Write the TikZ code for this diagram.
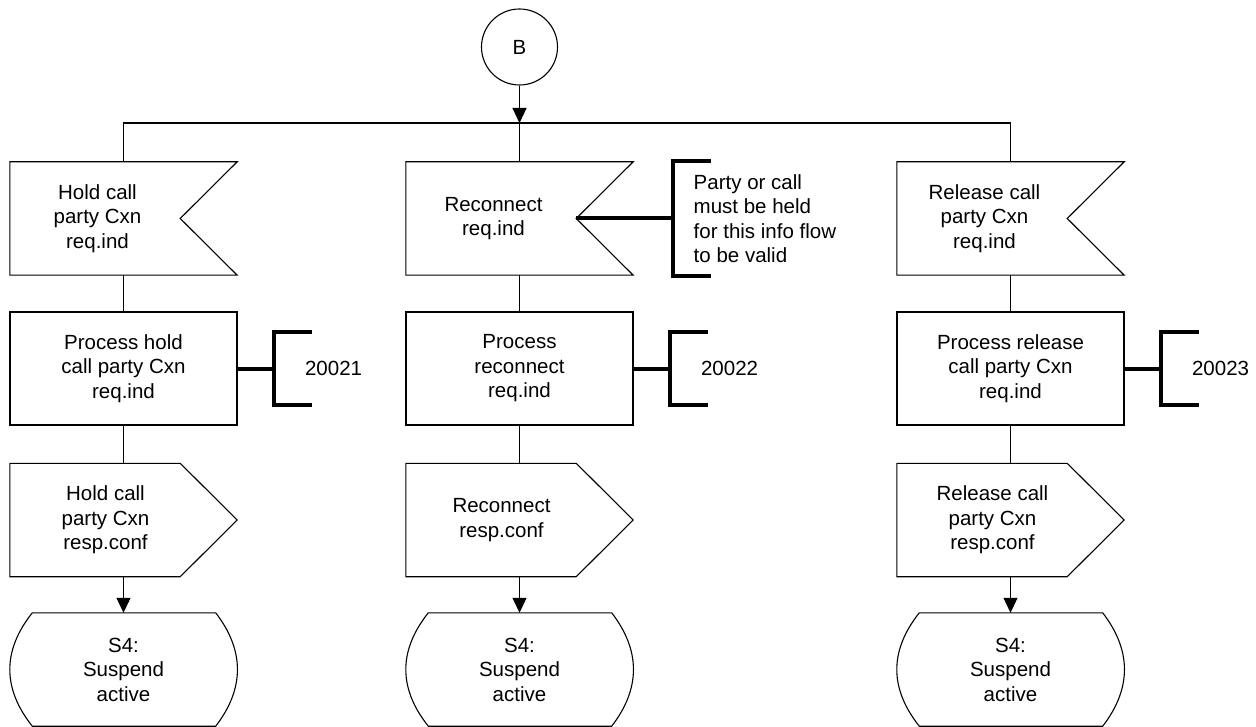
\documentclass[tikz,border=0pt]{standalone}
\usepackage{fontspec}
\setmainfont{Liberation Sans}
\usetikzlibrary{arrows.meta}
\begin{document}
\begin{tikzpicture}[x=1pt,y=-1pt,
  every node/.style={font=\fontsize{20.5}{24.5}\selectfont},
  conn/.style={line width=1.1pt},
  arr/.style={line width=1.1pt,-{Triangle[length=15pt,width=14pt]}},
  thickln/.style={line width=4pt},
  shp/.style={minimum width=227pt,minimum height=113pt,inner sep=0pt,align=center},
  taskbox/.style={shp,draw,line width=1.1pt},
  insig/.style={shp,label={[xshift=-26pt,align=center]center:{#1}}},
  outsig/.style={shp,label={[xshift=-18pt,align=center]center:{#1}}},
  statebox/.style={shp,minimum width=228pt,align=center},
  brknode/.style={inner sep=0pt,minimum width=38pt,minimum height=73pt,anchor=west,
     label={[anchor=west,xshift=28pt]west:{#1}}},
  connector/.style={circle,draw,line width=1.1pt,minimum size=76pt,inner sep=0pt}
]
\useasboundingbox (0,0) rectangle (1256,727);

% connector B
\node[connector] (B) at (519.5,47) {B};
\coordinate (bus) at (519.5,123);

% columns
\foreach \i/\cx in {1/123.5,2/519.5,3/1010.5}{
  \coordinate (col\i) at (\cx,0);
}

% input signals
\node[insig={Hold call\\party Cxn\\req.ind}] (in1) at (123.5,218.5) {};
\node[insig={Reconnect\\req.ind}] (in2) at (519.5,218.5) {};
\node[insig={Release call\\party Cxn\\req.ind}] (in3) at (1010.5,218.5) {};
\foreach \n in {in1,in2,in3}{
  \draw[conn] (\n.north west) -- (\n.north east) -- ([xshift=-57pt]\n.east)
     -- (\n.south east) -- (\n.south west) -- cycle;
}

% tasks
\node[taskbox] (t1) at (123.5,368.5) {Process hold\\call party Cxn\\req.ind};
\node[taskbox] (t2) at (519.5,368.5) {Process\\reconnect\\req.ind};
\node[taskbox] (t3) at (1010.5,368.5) {Process release\\call party Cxn\\req.ind};

% output signals
\node[outsig={Hold call\\party Cxn\\resp.conf}] (o1) at (123.5,520) {};
\node[outsig={Reconnect\\resp.conf}] (o2) at (519.5,520) {};
\node[outsig={Release call\\party Cxn\\resp.conf}] (o3) at (1010.5,520) {};
\foreach \n in {o1,o2,o3}{
  \draw[conn] (\n.north west) -- ([xshift=-57pt]\n.north east) -- (\n.east)
     -- ([xshift=-57pt]\n.south east) -- (\n.south west) -- cycle;
}

% states
\node[statebox] (s1) at (123.5,669.5) {S4:\\Suspend\\active};
\node[statebox] (s2) at (519.5,669.5) {S4:\\Suspend\\active};
\node[statebox] (s3) at (1010.5,669.5) {S4:\\Suspend\\active};
\foreach \n in {s1,s2,s3}{
  \draw[conn] ([xshift=23pt]\n.north west) -- ([xshift=-22pt]\n.north east)
     .. controls ([shift={(7pt,19pt)}]\n.east) and ([shift={(7pt,-19pt)}]\n.east) .. ([xshift=-22pt]\n.south east)
     -- ([xshift=23pt]\n.south west)
     .. controls ([shift={(-7pt,-19pt)}]\n.west) and ([shift={(-7pt,19pt)}]\n.west) .. ([xshift=23pt]\n.north west)
     -- cycle;
}

% flow lines
\draw[arr] (B) -- (bus);
\draw[conn] (in1.north) |- (bus) -| (in3.north);
\draw[conn] (bus) -- (in2.north);
\foreach \i in {1,2,3}{
  \draw[conn] (in\i) -- (t\i);
  \draw[conn] (t\i) -- (o\i);
  \draw[arr] (o\i) -- (s\i);
}

% comment brackets on tasks
\node[brknode={20021}] (c1) at ([xshift=36pt]t1.east) {};
\node[brknode={20022}] (c2) at ([xshift=36pt]t2.east) {};
\node[brknode={20023}] (c3) at ([xshift=36pt]t3.east) {};
\foreach \i in {1,2,3}{
  \draw[thickln] (t\i) -- (c\i);
  \draw[thickln] (c\i.north east) -- (c\i.north west) -- (c\i.south west) -- (c\i.south east);
}

% comment on Reconnect input
\node[inner sep=0pt,minimum width=37pt,minimum height=115pt,anchor=west,
  label={[anchor=west,xshift=17pt,align=left]west:{Party or call\\must be held\\for this info flow\\to be valid}}]
  (c0) at ([xshift=40pt]in2.east) {};
\draw[thickln] ([xshift=-57pt]in2.east) -- (c0.west);
\draw[thickln] (c0.north east) -- (c0.north west) -- (c0.south west) -- (c0.south east);
\end{tikzpicture}
\end{document}
